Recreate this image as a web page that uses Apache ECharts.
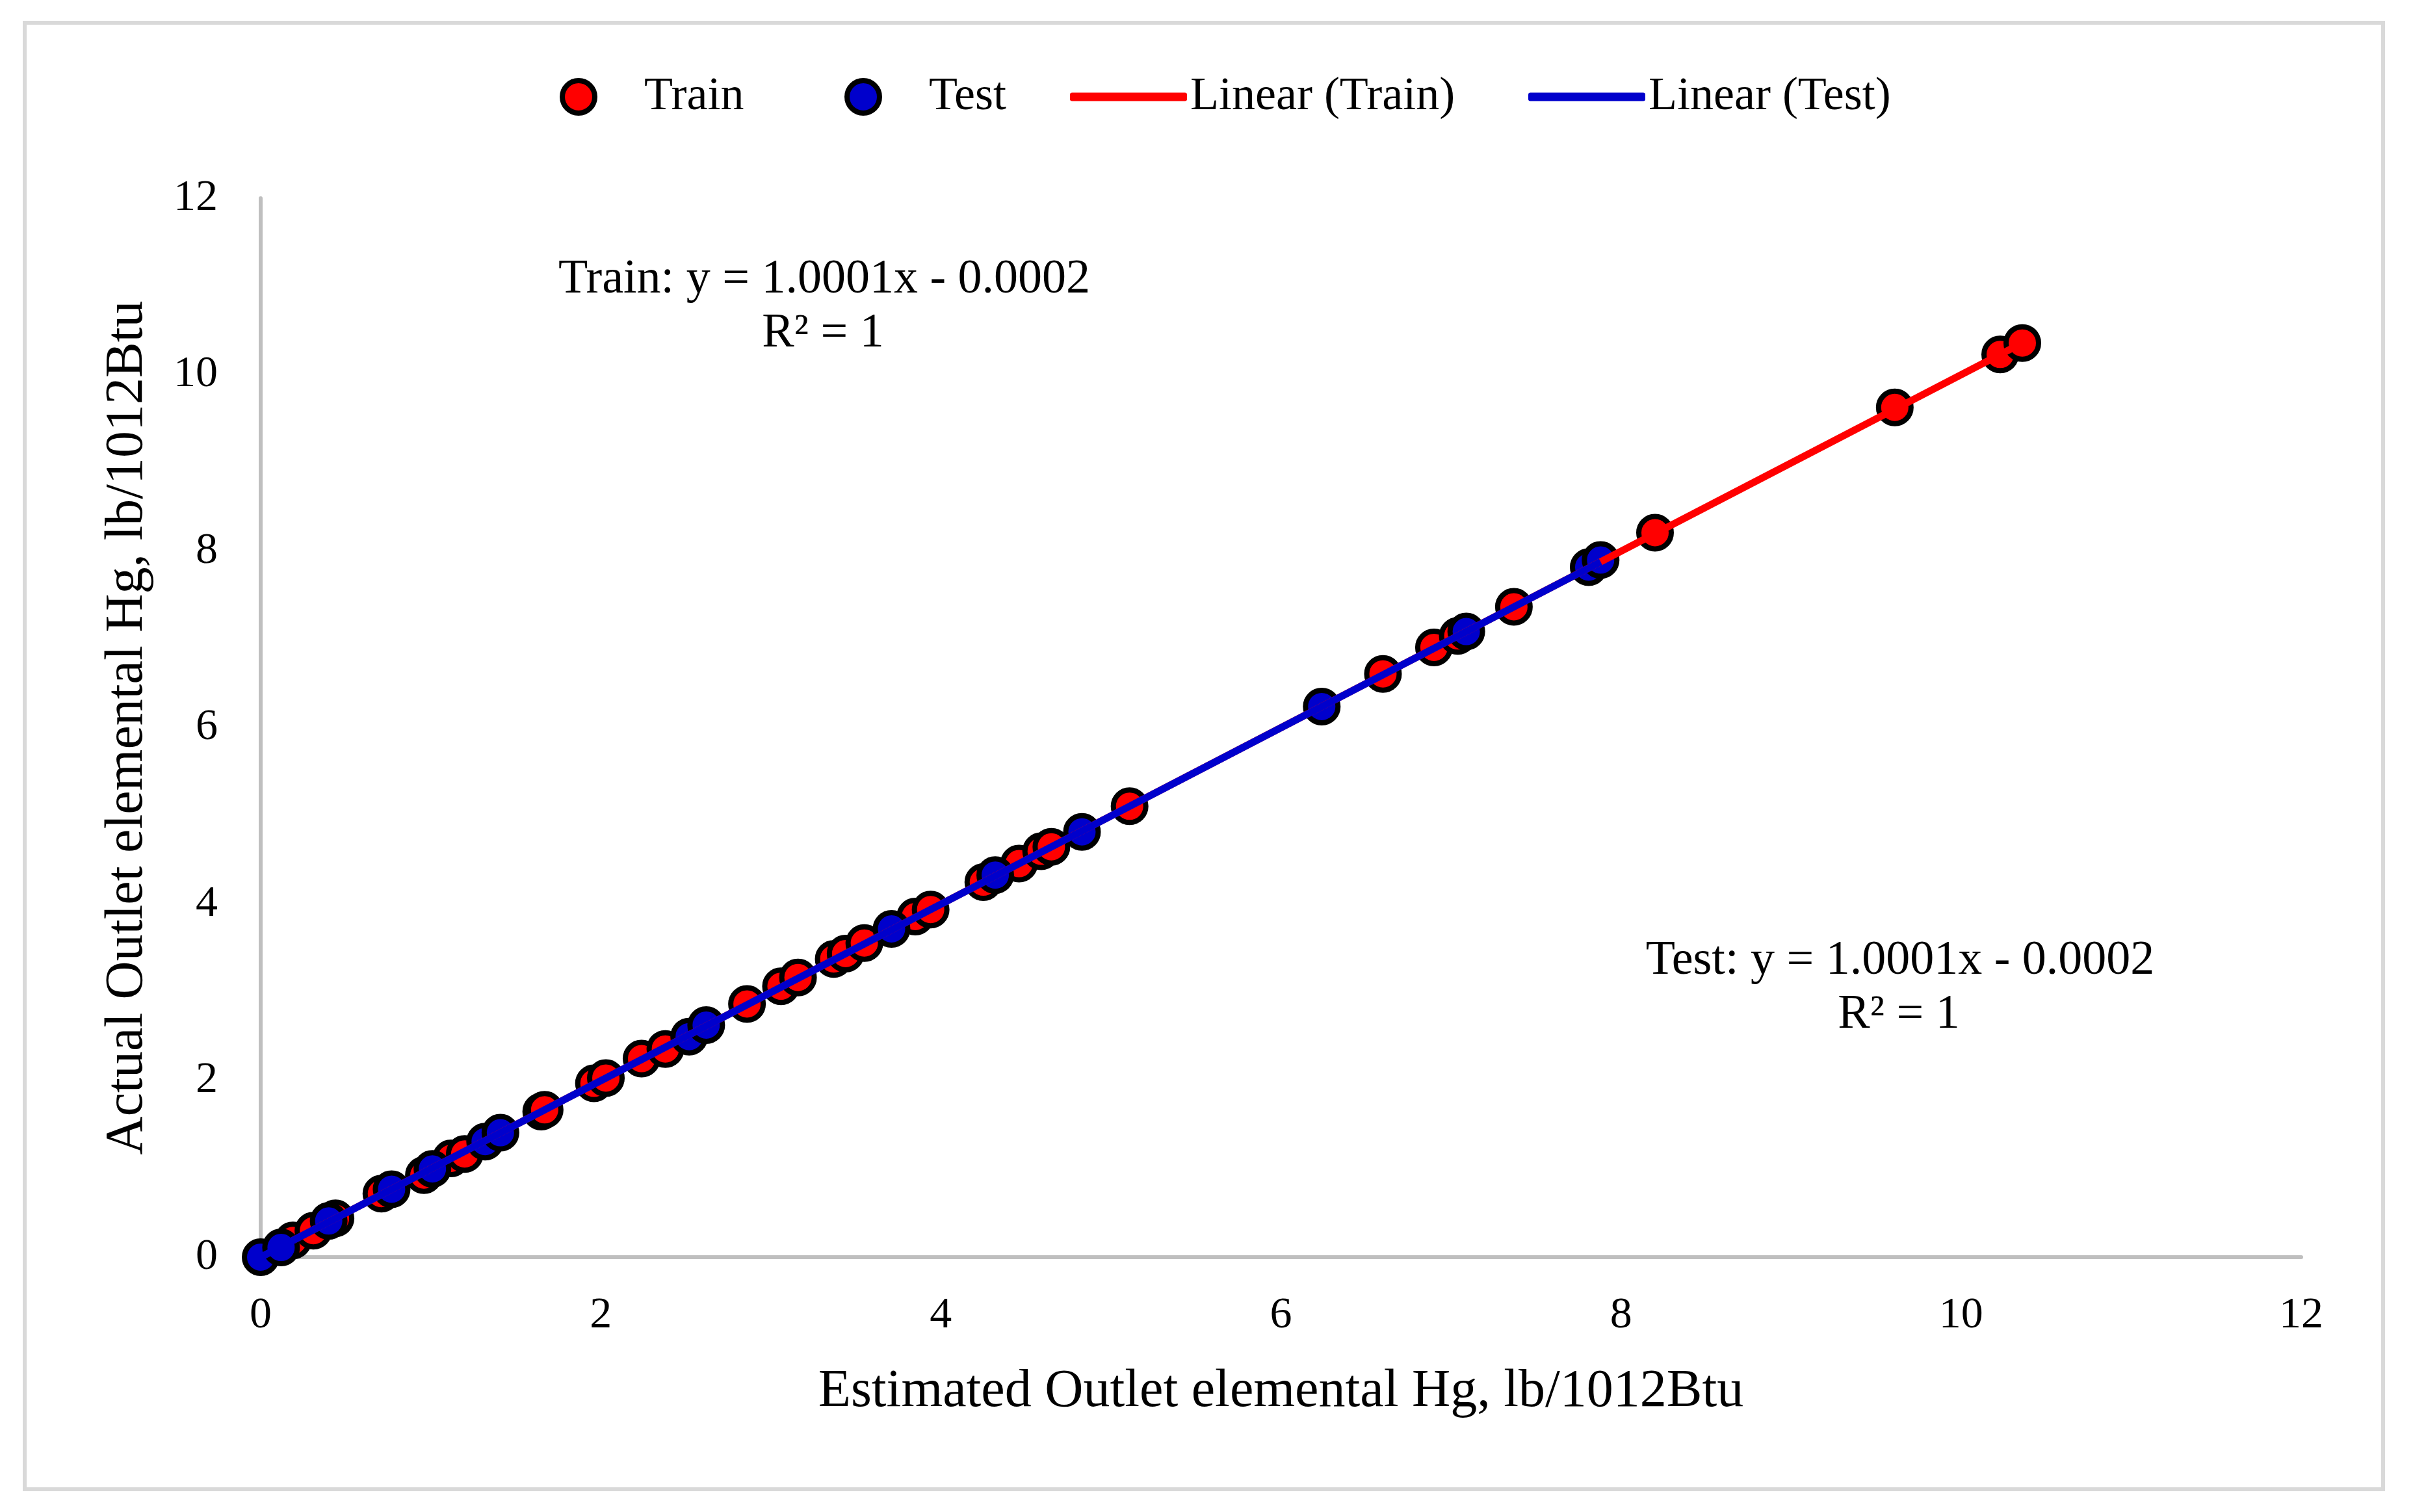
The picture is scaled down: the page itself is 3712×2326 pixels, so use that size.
<!DOCTYPE html>
<html>
<head>
<meta charset="utf-8">
<script src="https://cdn.jsdelivr.net/npm/echarts@6/dist/echarts.min.js"></script>
<style>
html,body{margin:0;padding:0;background:#fff;}
#frame{position:absolute;left:35px;top:32px;width:3622px;height:2250px;border:6px solid #d9d9d9;box-sizing:content-box;}
#chart{position:absolute;left:0;top:0;width:3712px;height:2326px;}
</style>
</head>
<body>
<div id="frame"></div>
<div id="chart"></div>
<script>
// ---- data ----
const trainPoints = [
  [0.19,0.19],[0.31,0.30],[0.44,0.44],[0.71,0.72],[0.96,0.93],[1.12,1.12],[1.20,1.17],
  [1.65,1.65],[1.67,1.67],[1.96,1.97],[2.03,2.03],[2.24,2.25],[2.38,2.36],[2.86,2.87],
  [3.06,3.07],[3.16,3.17],[3.37,3.38],[3.44,3.44],[3.55,3.56],[3.85,3.86],[3.94,3.94],
  [4.25,4.25],[4.46,4.46],[4.59,4.60],[4.65,4.65],[5.11,5.11],[6.60,6.61],[6.90,6.91],
  [7.04,7.04],[7.37,7.37],[8.20,8.21],[9.61,9.63],[10.23,10.23],[10.36,10.36]
];
const testPoints = [
  [0.00,0.00],[0.12,0.11],[0.40,0.41],[0.77,0.77],[1.01,1.00],[1.32,1.31],[1.41,1.41],
  [2.52,2.50],[2.62,2.63],[3.71,3.72],[4.32,4.33],[4.83,4.82],[6.24,6.24],[7.09,7.09],
  [7.81,7.82],[7.88,7.90]
];
const trainTrend = [[0.19,0.19],[10.36,10.36]];
const testTrend = [[0.00,0.00],[7.88,7.88]];
const axisTicks = [0,2,4,6,8,10,12];
const xTitle = 'Estimated Outlet elemental Hg, lb/1012Btu';
const yTitle = 'Actual Outlet elemental Hg, lb/1012Btu';
const trainEq = ['Train: y = 1.0001x - 0.0002', 'R² = 1'];
const testEq = ['Test: y = 1.0001x - 0.0002', 'R² = 1'];
const seriesNames = ['Train','Test','Linear (Train)','Linear (Test)'];

const FONT = '"Liberation Serif", "Times New Roman", serif';
const chart = echarts.init(document.getElementById('chart'), null, {renderer:'canvas'});

const legendText = {fontFamily: FONT, fontSize: 72, color: '#000'};
function scatterLegend(name, left, color) {
  return {
    data:[name], left:left, top:108, itemWidth:192, itemHeight:50, itemGap:0,
    textStyle: legendText, icon:'circle',
    itemStyle:{color:color, borderColor:'#000', borderWidth:8, opacity:1}
  };
}
function lineLegend(name, left, color) {
  return {
    data:[name], left:left, top:108, itemWidth:180, itemHeight:13, itemGap:0,
    textStyle: legendText, icon:'roundRect',
    itemStyle:{color:color, borderWidth:0}
  };
}

chart.setOption({
  animation:false,
  backgroundColor:'transparent',
  legend:[
    scatterLegend(seriesNames[0], 856, '#ff0000'),
    scatterLegend(seriesNames[1], 1294, '#0000cc'),
    lineLegend(seriesNames[2], 1641, '#ff0000'),
    lineLegend(seriesNames[3], 2346, '#0000cc')
  ],
  grid:{left:401, right:172, top:305, bottom:392, containLabel:false},
  xAxis:{
    type:'value', min:axisTicks[0], max:axisTicks[axisTicks.length-1], interval:2,
    name:xTitle, nameLocation:'middle', nameGap:166,
    nameTextStyle:{fontFamily:FONT, fontSize:82, color:'#000'},
    axisLine:{show:true, lineStyle:{color:'#bfbfbf', width:6}},
    axisTick:{show:false}, splitLine:{show:false},
    axisLabel:{fontFamily:FONT, fontSize:68, color:'#000', margin:56}
  },
  yAxis:{
    type:'value', min:axisTicks[0], max:axisTicks[axisTicks.length-1], interval:2,
    name:yTitle, nameLocation:'middle', nameGap:164, nameRotate:90,
    nameTextStyle:{fontFamily:FONT, fontSize:82, color:'#000'},
    axisLine:{show:true, lineStyle:{color:'#bfbfbf', width:6}},
    axisTick:{show:false}, splitLine:{show:false},
    axisLabel:{fontFamily:FONT, fontSize:68, color:'#000', margin:66}
  },
  series:[
    {name:seriesNames[0], type:'scatter', data:trainPoints, symbol:'circle', symbolSize:50, clip:false, z:2,
      itemStyle:{color:'#ff0000', borderColor:'#000', borderWidth:8, opacity:1}},
    {name:seriesNames[1], type:'scatter', data:testPoints, symbol:'circle', symbolSize:50, clip:false, z:3,
      itemStyle:{color:'#0000cc', borderColor:'#000', borderWidth:8, opacity:1}},
    {name:seriesNames[2], type:'line', data:trainTrend, symbol:'none', showSymbol:false, z:4,
      lineStyle:{color:'#ff0000', width:11}, itemStyle:{color:'#ff0000'}},
    {name:seriesNames[3], type:'line', data:testTrend, symbol:'none', showSymbol:false, z:5,
      lineStyle:{color:'#0000cc', width:11}, itemStyle:{color:'#0000cc'}}
  ],
  graphic:[
    {type:'text', style:{text:trainEq[0], x:1268, y:431, align:'center', verticalAlign:'middle', font:'74px '+FONT, fill:'#000'}},
    {type:'text', style:{text:trainEq[1], x:1266, y:514, align:'center', verticalAlign:'middle', font:'74px '+FONT, fill:'#000'}},
    {type:'text', style:{text:testEq[0], x:2923, y:1479, align:'center', verticalAlign:'middle', font:'74px '+FONT, fill:'#000'}},
    {type:'text', style:{text:testEq[1], x:2921, y:1562, align:'center', verticalAlign:'middle', font:'74px '+FONT, fill:'#000'}}
  ]
});
</script>
</body>
</html>
